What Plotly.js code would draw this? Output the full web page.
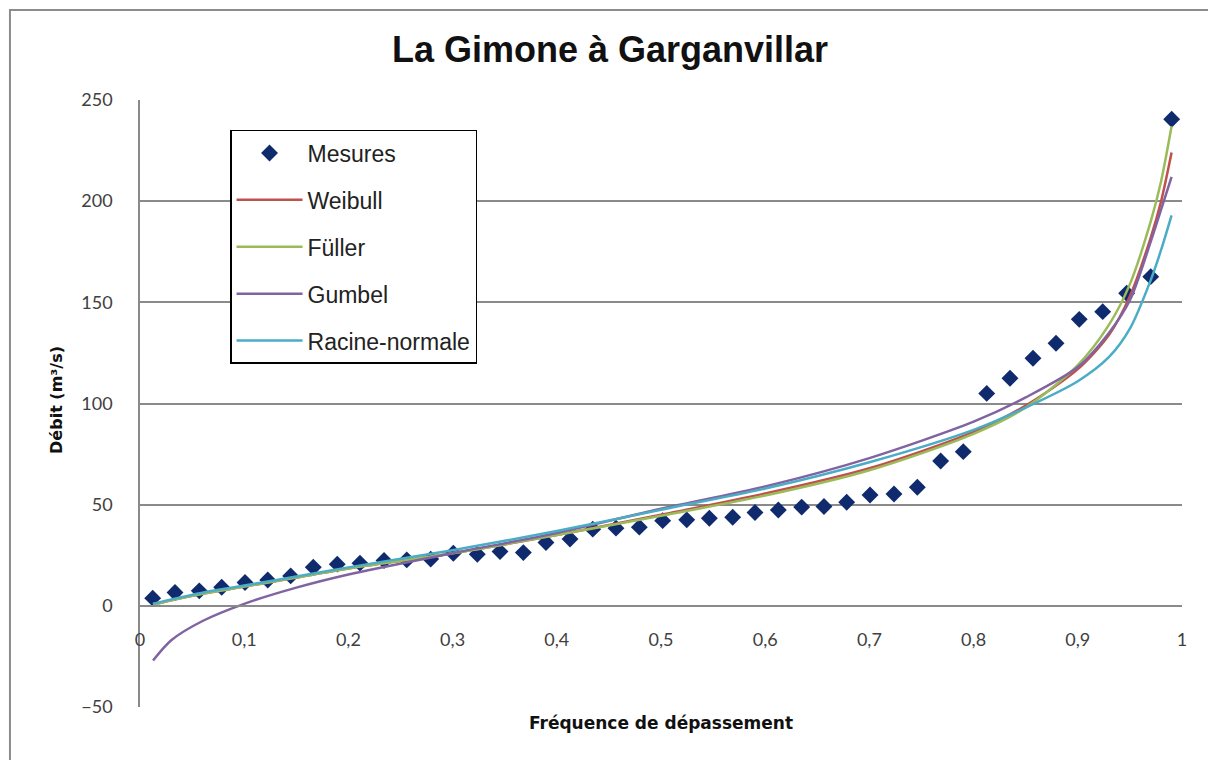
<!DOCTYPE html>
<html><head><meta charset="utf-8">
<script src="https://cdn.plot.ly/plotly-3.0.1.min.js"></script>
<style>html,body{margin:0;padding:0;background:#fff;}#chart{width:1208px;height:760px;}</style>
</head><body><div id="chart"></div>
<script>
var mesuresX = [0.0122,0.0336,0.0569,0.0784,0.1008,0.1226,0.1446,0.1663,0.1893,0.2111,0.2342,
  0.2560,0.2790,0.3007,0.3237,0.3455,0.3679,0.3896,0.4127,0.4345,0.4568,0.4792,
  0.5016,0.5247,0.5464,0.5688,0.5902,0.6126,0.6350,0.6564,0.6782,0.7006,0.7236,0.7460,
  0.7684,0.7901,0.8126,0.8349,0.8570,0.8791,0.9014,0.9239,0.9469,0.9700,0.9901];
var mesuresY = [3.8,6.6,7.4,9.2,11.5,12.8,14.8,19.1,20.6,21.1,22.4,
  22.7,23.1,26,25.5,26.8,26.3,31.3,33,37.9,38.4,38.9,
  42.1,42.5,43.3,43.8,46.1,47.4,48.8,49.1,51.2,54.8,55.3,58.6,
  71.6,76.2,105,112.5,122.4,129.8,141.6,145.4,154.5,162.7,240.5];

var curveX   = [0.0125,0.03,0.06,0.1,0.15,0.2,0.3,0.4,0.5,0.6,0.7,0.8,0.85,0.9,0.93,0.95,0.97,0.98,0.99];
var weibullY = [0.5,2.8,6,9.5,14,18.5,26,35,45,55.5,68,86,99,117,134,153,182,200,224];
var fullerY  = [0.5,2.8,6,9.5,14,18.5,26,35,44.5,54.5,67,85,98,119,139,159,190,210,237];
var gumbelY  = [-27,-17,-7.5,1,9,15.5,26,36,48,59,73,91,103,118,135,151,180,196,212];
var racineY  = [1,3.2,6.5,10,14.5,19,27.5,37,47.5,58,71,87,98,111,123,137,161,176,193];

var xTickVals = [0,0.1,0.2,0.3,0.4,0.5,0.6,0.7,0.8,0.9,1];
var xTickText = ["0","0,1","0,2","0,3","0,4","0,5","0,6","0,7","0,8","0,9","1"];
var yTickVals = [-50,0,50,100,150,200,250];

var lineW = 2.5;
var traces = [
  {x: mesuresX, y: mesuresY, mode: 'markers', name: 'Mesures', legendgroup: 'a',
   marker: {symbol: 'diamond', size: 13, color: '#0f2b6e'}},
  {x: curveX, y: weibullY, mode: 'lines', name: 'Weibull', legendgroup: 'b',
   line: {color: '#c0504d', width: lineW, shape: 'spline', smoothing: 0.8}},
  {x: curveX, y: fullerY, mode: 'lines', name: 'Füller', legendgroup: 'c',
   line: {color: '#9bbb59', width: lineW, shape: 'spline', smoothing: 0.8}},
  {x: curveX, y: gumbelY, mode: 'lines', name: 'Gumbel', legendgroup: 'd',
   line: {color: '#8064a2', width: lineW, shape: 'spline', smoothing: 0.8}},
  {x: curveX, y: racineY, mode: 'lines', name: 'Racine-normale', legendgroup: 'e',
   line: {color: '#4bacc6', width: lineW, shape: 'spline', smoothing: 0.8}}
];

var gridC = '#8a8a8a';
var layout = {
  width: 1208, height: 760,
  margin: {l: 140, r: 26, t: 100, b: 53},
  paper_bgcolor: '#fff', plot_bgcolor: '#fff',
  showlegend: true,
  font: {family: 'Lato, "Open Sans", sans-serif', color: '#404040', size: 17},
  title: {text: '<b>La Gimone à Garganvillar</b>', x: 0.505, xanchor: 'center', y: 0.935, yanchor: 'middle',
          font: {family: '"Liberation Sans", Arial, sans-serif', size: 36, color: '#111'}},
  xaxis: {range: [0, 1], tickvals: xTickVals, ticktext: xTickText, showgrid: false,
          zeroline: false, showline: true, linecolor: gridC, linewidth: 1.5,
          anchor: 'free', position: 1/6, ticks: 'outside', ticklen: 18, tickcolor: 'rgba(0,0,0,0)',
          tickfont: {size: 18, color: '#404040'}},
  yaxis: {range: [-50, 250], tickvals: yTickVals, showgrid: true, gridcolor: gridC, gridwidth: 1.5,
          zeroline: false, showline: true, linecolor: gridC, linewidth: 1.5,
          ticks: 'outside', ticklen: 22, tickcolor: 'rgba(0,0,0,0)',
          tickfont: {size: 18, color: '#404040'}},
  legend: {x: 0.0864, y: 0.9506, xanchor: 'left', yanchor: 'top',
           bgcolor: '#fff', bordercolor: '#000', borderwidth: 1.5,
           font: {family: '"Liberation Sans", Arial, sans-serif', size: 23, color: '#222'},
           tracegroupgap: 14, itemwidth: 66},
  annotations: [
    {text: '<b>Fréquence de dépassement</b>', xref: 'paper', yref: 'paper',
     x: 0.5, y: -0.027, xanchor: 'center', yanchor: 'middle', showarrow: false,
     font: {family: '"DejaVu Sans", Verdana, sans-serif', size: 17, color: '#111'}},
    {text: '<b>Débit (m³/s)</b>', xref: 'paper', yref: 'paper', textangle: -90,
     x: -0.0796, y: 0.506, xanchor: 'center', yanchor: 'middle', showarrow: false,
     font: {family: '"DejaVu Sans", Verdana, sans-serif', size: 16, color: '#111'}}
  ],
  shapes: [
    {type: 'rect', xref: 'paper', yref: 'paper', x0: -0.1248, x1: 1.2, y0: -0.3, y1: 1.1483,
     line: {color: '#8c8c8c', width: 2}, fillcolor: 'rgba(0,0,0,0)', layer: 'below'}
  ]
};

Plotly.newPlot('chart', traces, layout, {displayModeBar: false, responsive: false});
</script>
</body></html>
